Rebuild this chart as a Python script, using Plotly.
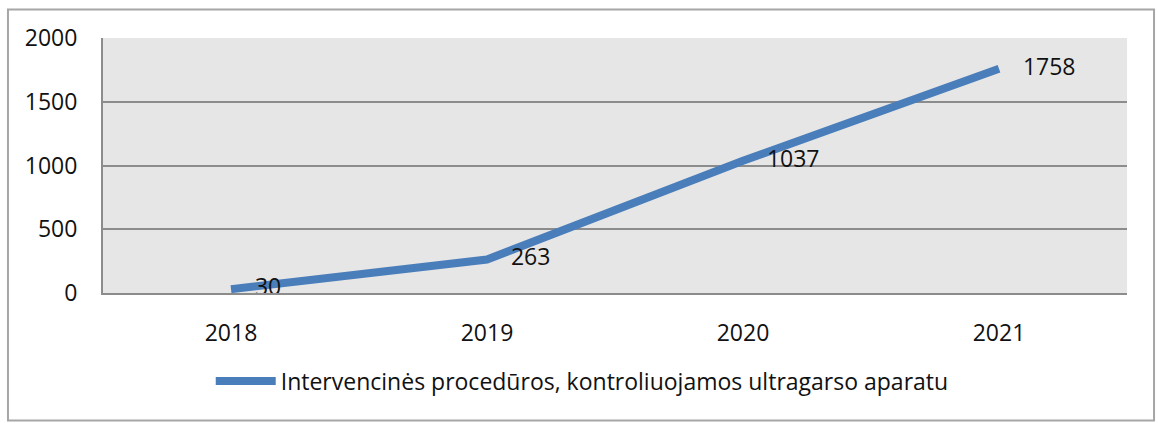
import plotly.graph_objects as go

years = ["2018", "2019", "2020", "2021"]
values = [30, 263, 1037, 1758]
series_name = "Intervencinės procedūros, kontroliuojamos ultragarso aparatu"
y_ticks = [0, 500, 1000, 1500, 2000]

font = "'Open Sans', 'Noto Sans', sans-serif"
grid_color = "#8c8c8c"
line_color = "#4a7ebb"

fig = go.Figure()
fig.add_trace(go.Scatter(
    x=years,
    y=values,
    mode="lines+text",
    line=dict(color=line_color, width=8),
    text=["    " + str(v) for v in values],
    textposition="middle right",
    textfont=dict(family=font, size=23, color="#111111"),
    name=series_name,
    cliponaxis=False,
))

fig.update_layout(
    width=1158,
    height=423,
    margin=dict(l=103, r=31, t=38, b=130),
    paper_bgcolor="white",
    plot_bgcolor="#e6e6e6",
    font=dict(family=font, size=23, color="#111111"),
    showlegend=True,
    legend=dict(
        orientation="h",
        x=0.468,
        xanchor="center",
        y=-0.345,
        yanchor="middle",
        font=dict(family=font, size=23),
        itemwidth=60,
    ),
    xaxis=dict(
        type="category",
        range=[-0.5, 3.5],
        showgrid=False,
        showline=True,
        linecolor=grid_color,
        linewidth=2,
        ticks="",
        ticklabelstandoff=18,
        fixedrange=True,
    ),
    yaxis=dict(
        range=[0, 2000],
        tickvals=y_ticks,
        showgrid=True,
        gridcolor=grid_color,
        gridwidth=2,
        zeroline=False,
        showline=True,
        linecolor=grid_color,
        linewidth=2,
        ticks="",
        ticklabelstandoff=19,
        fixedrange=True,
    ),
    shapes=[dict(
        type="rect",
        xref="paper", yref="paper",
        x0=-0.0928, x1=1.0264, y0=-0.5, y1=1.112,
        line=dict(color="#a6a6a6", width=2),
        fillcolor="rgba(0,0,0,0)",
        layer="below",
    )],
)

fig.write_html("out.html", config={"displayModeBar": False},
               post_script="document.body.style.margin='0';")
